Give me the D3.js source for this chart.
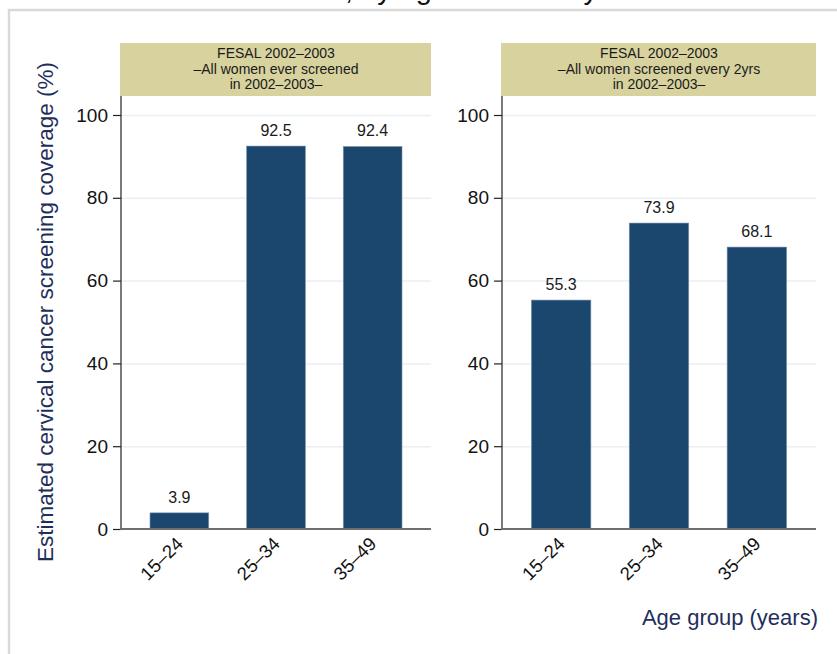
<!DOCTYPE html>
<html>
<head>
<meta charset="utf-8">
<script src="https://cdn.jsdelivr.net/npm/d3@7"></script>
<style>
  html, body { margin: 0; padding: 0; background: #fff; }
  svg { display: block; font-family: "Liberation Sans", Arial, sans-serif; }
</style>
</head>
<body>
<script>
// data
const ageGroups = ["15–24", "25–34", "35–49"];
const everScreened = [3.9, 92.5, 92.4];
const screenedEvery2yrs = [55.3, 73.9, 68.1];
const yTicks = [0, 20, 40, 60, 80, 100];
const panelTitles = [
  ["FESAL 2002–2003", "–All women ever screened", "in 2002–2003–"],
  ["FESAL 2002–2003", "–All women screened every 2yrs", "in 2002–2003–"]
];
const chartTitle = "El Salvador, by age and survey";
const yTitle = "Estimated cervical cancer screening coverage (%)";
const xTitle = "Age group (years)";

const width = 837, height = 654;
const barColor = "#1b466d";
const stripColor = "#d7d29e";
const navy = "#1f2f5c";

const svg = d3.select("body")
    .append("svg")
      .attr("width", width)
      .attr("height", height);

svg.append("rect")
    .attr("width", width)
    .attr("height", height)
    .attr("fill", "#fff");

// title sits mostly above the page edge, as in the reference
svg.append("text")
    .attr("x", 598)
    .attr("y", -1)
    .attr("text-anchor", "end")
    .attr("font-size", 29)
    .attr("fill", "#111")
    .text(chartTitle);

// outer frame (only left and top edges show)
svg.append("path")
    .attr("d", "M9," + height + "V10H" + width)
    .attr("fill", "none")
    .attr("stroke", "#d9d9d9")
    .attr("stroke-width", 2.5);

// shared y scale
const yScale = d3.scaleLinear()
    .domain([0, 100])
    .range([529, 115]);

const panels = [
  {x0: 121, x1: 431, values: everScreened, title: panelTitles[0]},
  {x0: 502, x1: 816, values: screenedEvery2yrs, title: panelTitles[1]}
];

panels.forEach(function (p) {
  const xScale = d3.scaleBand()
      .domain(ageGroups)
      .range([p.x0, p.x1])
      .paddingInner(0.392)
      .paddingOuter(0.3);

  // strip header
  svg.append("rect")
      .attr("x", p.x0 - 1)
      .attr("y", 43)
      .attr("width", p.x1 - p.x0 + 1)
      .attr("height", 53)
      .attr("fill", stripColor);

  svg.append("g")
      .selectAll("text")
      .data(p.title)
      .enter()
      .append("text")
        .attr("x", (p.x0 + p.x1) / 2)
        .attr("y", function (d, i) { return 58 + i * 15.5; })
        .attr("text-anchor", "middle")
        .attr("font-size", 14)
        .attr("fill", "#1a1a1a")
        .text(function (d) { return d; });

  // gridlines
  const grid = svg.append("g")
      .attr("transform", "translate(" + p.x0 + ",0)")
      .call(d3.axisLeft(yScale)
          .tickValues(yTicks.filter(function (t) { return t > 0; }))
          .tickSize(-(p.x1 - p.x0))
          .tickFormat(""));
  grid.select(".domain").remove();
  grid.selectAll("line")
      .attr("stroke", "#e8f0f3")
      .attr("stroke-width", 1.5);

  // bars
  svg.append("g")
      .selectAll("rect")
      .data(p.values)
      .enter()
      .append("rect")
        .attr("x", function (d, i) { return xScale(ageGroups[i]); })
        .attr("y", function (d) { return yScale(d); })
        .attr("width", xScale.bandwidth())
        .attr("height", function (d) { return yScale(0) - yScale(d); })
        .attr("fill", barColor)
        .attr("stroke", "#7d97b3")
        .attr("stroke-width", 0.6);

  // value labels
  svg.append("g")
      .selectAll("text")
      .data(p.values)
      .enter()
      .append("text")
        .attr("x", function (d, i) { return xScale(ageGroups[i]) + xScale.bandwidth() / 2; })
        .attr("y", function (d) { return yScale(d) - 10; })
        .attr("text-anchor", "middle")
        .attr("font-size", 16)
        .attr("fill", "#1a1a1a")
        .text(function (d) { return d.toFixed(1); });

  // y axis
  const yAxis = svg.append("g")
      .attr("transform", "translate(" + p.x0 + ",0)")
      .call(d3.axisLeft(yScale)
          .tickValues(yTicks)
          .tickSize(8)
          .tickPadding(5));
  yAxis.select(".domain")
      .attr("d", "M0,96V529")
      .attr("stroke", "#222")
      .attr("stroke-width", 1.2);
  yAxis.selectAll(".tick line")
      .attr("stroke", "#222")
      .attr("stroke-width", 1.2);
  yAxis.selectAll(".tick text")
      .attr("font-size", 19)
      .attr("font-family", "Liberation Sans, Arial, sans-serif")
      .attr("fill", "#111");

  // x axis
  const xAxis = svg.append("g")
      .attr("transform", "translate(0," + yScale(0) + ")")
      .call(d3.axisBottom(xScale).tickSize(0).tickFormat(""));
  xAxis.select(".domain")
      .attr("d", "M" + (p.x0 - 1) + ",0H" + p.x1)
      .attr("stroke", "#6e6e6e")
      .attr("stroke-width", 2.2);

  svg.append("g")
      .selectAll("text")
      .data(ageGroups)
      .enter()
      .append("text")
        .attr("transform", function (d) {
          const cx = xScale(d) + xScale.bandwidth() / 2;
          return "translate(" + (cx + 5) + ",545) rotate(-45)";
        })
        .attr("text-anchor", "end")
        .attr("font-size", 18.5)
        .attr("fill", "#111")
        .text(function (d) { return d; });
});

// axis titles
svg.append("text")
    .attr("transform", "translate(53,312) rotate(-90)")
    .attr("text-anchor", "middle")
    .attr("font-size", 22.5)
    .attr("fill", navy)
    .text(yTitle);

svg.append("text")
    .attr("x", 818)
    .attr("y", 625)
    .attr("text-anchor", "end")
    .attr("font-size", 22)
    .attr("fill", navy)
    .text(xTitle);
</script>
</body>
</html>
